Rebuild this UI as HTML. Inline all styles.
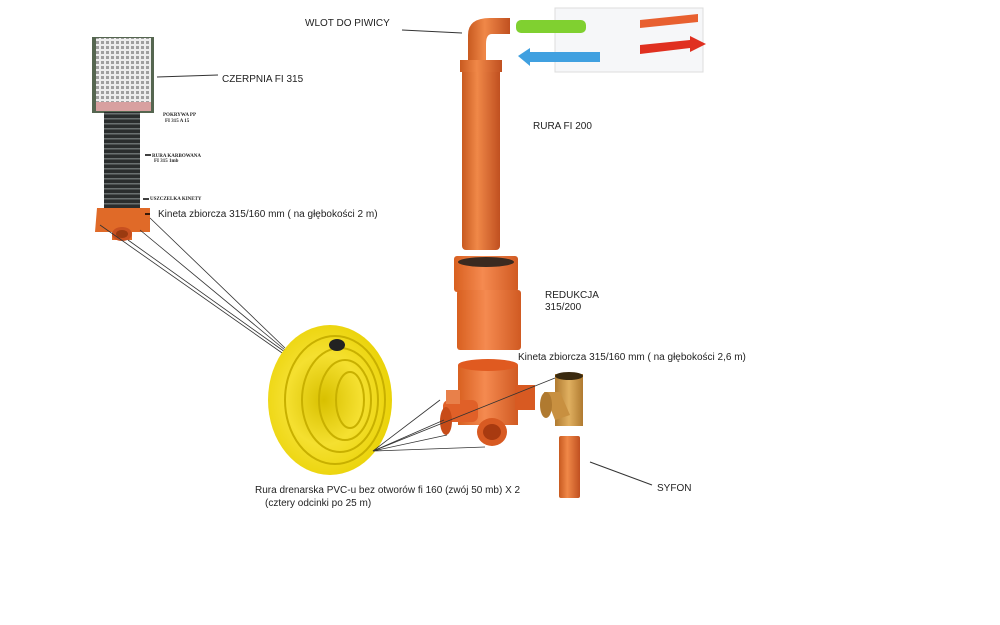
<!DOCTYPE html>
<html><head><meta charset="utf-8"><style>
body{margin:0;background:#fff;width:1000px;height:625px;overflow:hidden}
svg{position:absolute;left:0;top:0}
text{font-family:"Liberation Sans",sans-serif;font-size:10px;fill:#222}
.b{font-family:"Liberation Serif",serif;font-size:5px;font-weight:bold}
</style></head><body>
<svg width="1000" height="625" viewBox="0 0 1000 625">
<defs>
<pattern id="mesh" width="5" height="5" patternUnits="userSpaceOnUse"><rect width="5" height="5" fill="#eeeeee"/><rect x="1" y="1" width="3" height="3" fill="#a0a0a0"/></pattern>
<pattern id="corr" width="10" height="5" patternUnits="userSpaceOnUse"><rect width="10" height="5" fill="#2a2d2d"/><rect y="3" width="10" height="1.5" fill="#6a7070"/></pattern>
<linearGradient id="or" x1="0" x2="1"><stop offset="0" stop-color="#c85a20"/><stop offset=".4" stop-color="#f08848"/><stop offset="1" stop-color="#c05020"/></linearGradient>
<linearGradient id="or2" x1="0" x2="1"><stop offset="0" stop-color="#d86020"/><stop offset=".45" stop-color="#f58a50"/><stop offset="1" stop-color="#d05a22"/></linearGradient>
<linearGradient id="tan" x1="0" x2="1"><stop offset="0" stop-color="#b07a30"/><stop offset=".5" stop-color="#e0b060"/><stop offset="1" stop-color="#b07a30"/></linearGradient>
<radialGradient id="yel" cx=".45" cy=".5" r=".6"><stop offset="0" stop-color="#d8c000"/><stop offset=".5" stop-color="#f5e030"/><stop offset="1" stop-color="#e8d000"/></radialGradient>
</defs>
<!-- czerpnia -->
<rect x="92" y="37" width="62" height="76" fill="#556650"/>
<rect x="96" y="38" width="55" height="66" fill="url(#mesh)"/>
<rect x="96" y="102" width="55" height="9" fill="#d8a0a0"/>
<rect x="104" y="112" width="36" height="96" fill="url(#corr)"/>
<path d="M97 208 L150 208 L150 232 L132 232 L132 240 L112 240 L112 232 L95 232 Z" fill="#e06a28"/>
<ellipse cx="122" cy="234" rx="10" ry="7" fill="#c85020"/><ellipse cx="122" cy="234" rx="6" ry="4" fill="#9a3a10"/>
<line x1="157" y1="77" x2="218" y2="75" stroke="#333"/>
<text x="222" y="82">CZERPNIA FI 315</text>
<text class="b" x="163" y="116">POKRYWA PP</text><text class="b" x="165" y="122">FI 315 A 15</text>
<text class="b" x="152" y="157">RURA KARBOWANA</text><text class="b" x="154" y="162">FI 315 1mb</text>
<text class="b" x="150" y="200">USZCZELKA KINETY</text>
<path d="M145 155h6M143 199h6M145 214h5" stroke="#000" stroke-width="1.5"/>
<text x="158" y="217">Kineta zbiorcza 315/160 mm ( na głębokości 2 m)</text>
<g stroke="#333" stroke-width=".8">
<line x1="100" y1="225" x2="285" y2="355"/><line x1="128" y1="240" x2="285" y2="352"/><line x1="140" y1="230" x2="285" y2="350"/><line x1="150" y1="218" x2="285" y2="348"/>
</g>
<!-- coil -->
<ellipse cx="330" cy="400" rx="62" ry="75" fill="url(#yel)"/>
<g fill="none" stroke="#c8b000" stroke-width="2">
<ellipse cx="335" cy="400" rx="50" ry="64"/><ellipse cx="340" cy="400" rx="38" ry="52"/><ellipse cx="345" cy="400" rx="26" ry="40"/><ellipse cx="350" cy="400" rx="14" ry="28"/>
</g>
<ellipse cx="337" cy="345" rx="8" ry="6" fill="#222"/>
<text x="255" y="493">Rura drenarska PVC-u bez otworów fi 160 (zwój 50 mb) X 2</text>
<text x="265" y="506">(cztery odcinki po 25 m)</text>
<!-- pipe fi200 -->
<rect x="462" y="62" width="38" height="188" rx="4" fill="url(#or)"/>
<rect x="460" y="60" width="42" height="12" fill="url(#or)"/>
<path d="M468 35 Q468 18 490 18 L510 18 L510 34 L492 34 Q486 34 486 44 L486 60 L468 60 Z" fill="url(#or)"/>
<line x1="402" y1="30" x2="462" y2="33" stroke="#333"/>
<text x="305" y="26">WLOT DO PIWICY</text>
<!-- HRV -->
<rect x="555" y="8" width="148" height="64" fill="#f6f7f9" stroke="#ddd"/>
<rect x="516" y="20" width="70" height="13" rx="5" fill="#80d030"/>
<path d="M518 56 L530 48 L530 52 L600 52 L600 62 L530 62 L530 66Z" fill="#40a0e0"/>
<path d="M640 20 L698 14 L698 22 L640 28Z" fill="#e86030"/>
<path d="M640 45 L690 40 L690 36 L706 44 L690 52 L690 48 L640 54Z" fill="#e03020"/>
<text x="533" y="129">RURA FI 200</text>
<!-- reduction -->
<rect x="454" y="256" width="64" height="36" rx="3" fill="url(#or2)"/>
<ellipse cx="486" cy="262" rx="28" ry="5" fill="#3a2a20"/>
<rect x="457" y="290" width="64" height="60" rx="3" fill="url(#or2)"/>
<text x="545" y="298">REDUKCJA</text><text x="545" y="310">315/200</text>
<!-- kineta bottom -->
<text x="518" y="360">Kineta zbiorcza 315/160 mm ( na głębokości 2,6 m)</text>
<rect x="458" y="365" width="60" height="60" fill="url(#or2)"/>
<ellipse cx="488" cy="365" rx="30" ry="6" fill="#e05a20"/>
<rect x="443" y="400" width="35" height="22" rx="6" fill="#e06028"/>
<ellipse cx="446" cy="421" rx="6" ry="14" fill="#c84c18"/>
<rect x="515" y="385" width="20" height="25" fill="#d85a22"/>
<ellipse cx="492" cy="432" rx="15" ry="14" fill="#d85a22"/><ellipse cx="492" cy="432" rx="9" ry="8" fill="#a83a10"/>
<rect x="446" y="390" width="14" height="14" fill="#e8804a"/>
<!-- tee -->
<rect x="555" y="374" width="28" height="52" fill="url(#tan)"/>
<ellipse cx="569" cy="376" rx="14" ry="4" fill="#3a2a10"/>
<path d="M544 392 L560 392 L570 415 L555 420 Z" fill="#c89040"/>
<ellipse cx="546" cy="405" rx="6" ry="13" fill="#b07a30"/>
<rect x="559" y="436" width="21" height="62" rx="2" fill="url(#or)"/>
<line x1="590" y1="462" x2="652" y2="485" stroke="#333"/>
<text x="657" y="491">SYFON</text>
<g stroke="#333" stroke-width=".8">
<line x1="373" y1="451" x2="440" y2="400"/><line x1="373" y1="451" x2="444" y2="420"/><line x1="373" y1="451" x2="447" y2="435"/><line x1="373" y1="451" x2="485" y2="447"/><line x1="373" y1="451" x2="555" y2="378"/>
</g>
</svg>
</body></html>
